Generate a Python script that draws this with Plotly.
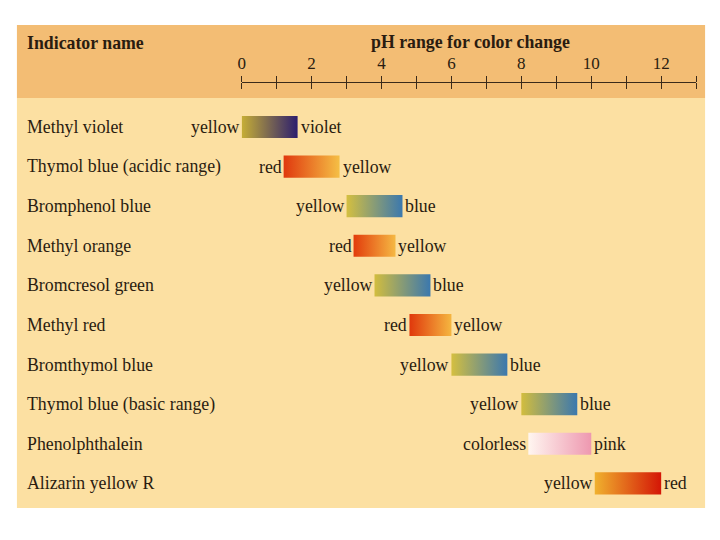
import plotly.graph_objects as go

# ---- data ----
indicators = ["Methyl violet", "Thymol blue (acidic range)", "Bromphenol blue",
              "Methyl orange", "Bromcresol green", "Methyl red", "Bromthymol blue",
              "Thymol blue (basic range)", "Phenolphthalein", "Alizarin yellow R"]
ph_start = [0.0, 1.2, 3.0, 3.2, 3.8, 4.8, 6.0, 8.0, 8.2, 10.1]
ph_end = [1.6, 2.8, 4.6, 4.4, 5.4, 6.0, 7.6, 9.6, 10.0, 12.0]
low_label = ["yellow", "red", "yellow", "red", "yellow", "red", "yellow", "yellow", "colorless", "yellow"]
high_label = ["violet", "yellow", "blue", "yellow", "blue", "yellow", "blue", "blue", "pink", "red"]
low_color = ["#c6ae36", "#e0380e", "#d4bf40", "#e23c0c", "#d2bd3e", "#e0380c", "#d4bf40", "#d2bd3e", "#fff6f0", "#f0b12e"]
high_color = ["#2c1e6e", "#f5bf45", "#3b78ae", "#f5b843", "#3b78ae", "#f5b640", "#3b78ae", "#3b78ae", "#ee98b0", "#d41606"]
tick_vals = list(range(0, 14))
tick_text = [str(v) if v % 2 == 0 and v <= 12 else "" for v in tick_vals]

FONT = "Liberation Serif"
TXT = "#2a1c10"
W, H = 720, 540
half = 0.28

fig = go.Figure()

for i, name in enumerate(indicators):
    s, e = ph_start[i], ph_end[i]
    fig.add_trace(go.Scatter(
        x=[s, e, e, s, s], y=[i - half, i - half, i + half, i + half, i - half],
        mode="lines", fill="toself", line=dict(width=0),
        fillgradient=dict(type="horizontal", colorscale=[[0, low_color[i]], [1, high_color[i]]]),
        showlegend=False, hoverinfo="skip"))

# dummy trace for the lower-tick overlay axis
fig.add_trace(go.Scatter(x=[0], y=[0], xaxis="x2", mode="markers",
                         marker=dict(opacity=0), showlegend=False, hoverinfo="skip"))

ann = []
for i, name in enumerate(indicators):
    ann.append(dict(text=name, xref="paper", x=21 / W, xanchor="left", yref="y", y=i,
                    yanchor="middle", showarrow=False, font=dict(family=FONT, size=17.8, color=TXT)))
    ann.append(dict(text=low_label[i], xref="x", x=ph_start[i], xanchor="right", xshift=0,
                    yref="y", y=i, yanchor="middle", showarrow=False,
                    font=dict(family=FONT, size=17.8, color=TXT)))
    ann.append(dict(text=high_label[i], xref="x", x=ph_end[i], xanchor="left", xshift=1,
                    yref="y", y=i, yanchor="middle", showarrow=False,
                    font=dict(family=FONT, size=17.8, color=TXT)))

ann.append(dict(text="<b>Indicator name</b>", xref="paper", x=21 / W, xanchor="left",
                yref="paper", y=1 - 43 / H, yanchor="middle", showarrow=False,
                font=dict(family=FONT, size=17.8, color=TXT)))
ann.append(dict(text="<b>pH range for color change</b>", xref="paper", x=469 / W, xanchor="center",
                yref="paper", y=1 - 42 / H, yanchor="middle", showarrow=False,
                font=dict(family=FONT, size=17.8, color=TXT)))

shapes = [
    dict(type="rect", xref="paper", yref="paper", x0=13 / W, x1=705 / W, y0=1 - 508 / H, y1=1 - 98 / H,
         fillcolor="#fce0a2", line=dict(width=0), layer="below"),
    dict(type="rect", xref="paper", yref="paper", x0=13 / W, x1=705 / W, y0=1 - 98 / H, y1=1 - 25 / H,
         fillcolor="#f3bd74", line=dict(width=0), layer="below"),
]

axis_pos = 1 - 82 / H
dom = [239 / W, 696 / W]
fig.update_layout(
    width=W, height=H, margin=dict(l=0, r=0, t=0, b=0),
    paper_bgcolor="white", plot_bgcolor="rgba(0,0,0,0)",
    shapes=shapes, annotations=ann,
    xaxis=dict(domain=dom, range=[0, 13], side="top", anchor="free", position=axis_pos,
               showgrid=False, zeroline=False, showline=True, linecolor="#3a2a1a", linewidth=1.3,
               ticks="outside", ticklen=6, tickwidth=1.3, tickcolor="#3a2a1a",
               tickvals=tick_vals, ticktext=tick_text,
               tickfont=dict(family=FONT, size=17, color=TXT)),
    xaxis2=dict(domain=dom, range=[0, 13], overlaying="x", side="bottom", anchor="free",
                position=axis_pos, showgrid=False, zeroline=False, showline=False,
                ticks="outside", ticklen=6, tickwidth=1.3, tickcolor="#3a2a1a",
                tickvals=tick_vals, showticklabels=False),
    yaxis=dict(domain=[0, 1], range=[10.43, -3.207], visible=False, showgrid=False, zeroline=False),
)

fig.write_html("out.html", config={"displayModeBar": False},
               post_script="document.body.style.margin='0';")
